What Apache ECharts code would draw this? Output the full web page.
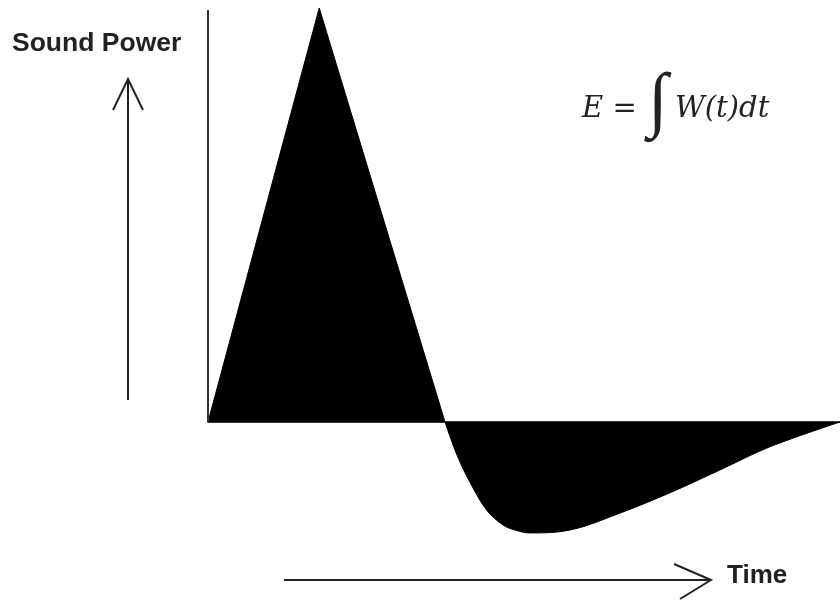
<!DOCTYPE html>
<html><head><meta charset="utf-8">
<script src="https://cdn.jsdelivr.net/npm/echarts@6/dist/echarts.min.js"></script>
<style>html,body{margin:0;padding:0;background:#fff}#c{width:840px;height:603px}</style>
</head><body><div id="c"></div>
<script>
// Time (0..100), sound power (relative)
const pulseTime = [0, 17.6, 37.5];
const pulsePower = [0, 100, 0];
const tailTime = [37.5, 39.4, 41.5, 44.1, 46.7, 48.6, 50.9, 57.3, 65.2, 73.1, 81.0, 88.9, 100];
const tailPower = [0, -8.0, -14.7, -21.3, -24.9, -26.1, -26.8, -26.1, -22.0, -17.1, -11.6, -6.0, 0];
const yAxisLineTime = [0, 0];
const yAxisLinePower = [0, 99.5];
const yLabel = 'Sound Power';
const xLabel = 'Time';

const zip = (a, b) => a.map((v, i) => [v, b[i]]);
const chart = echarts.init(document.getElementById('c'), null, {renderer: 'canvas'});
chart.setOption({
  animation: false,
  backgroundColor: '#fff',
  grid: {left: 208, right: 0, top: 8, height: 538.2},
  xAxis: {type: 'value', min: 0, max: 100,
    axisLine: {show: true, onZero: true, lineStyle: {color: '#333', width: 2}},
    axisTick: {show: false}, axisLabel: {show: false}, splitLine: {show: false}},
  yAxis: {type: 'value', min: -30, max: 100,
    axisLine: {show: false}, axisTick: {show: false}, axisLabel: {show: false}, splitLine: {show: false}},
  series: [
    {type: 'line', data: zip(pulseTime, pulsePower), symbol: 'none',
     lineStyle: {color: '#000', width: 1}, areaStyle: {color: '#000', opacity: 1}},
    {type: 'line', data: zip(tailTime, tailPower), symbol: 'none', smooth: 0.35,
     lineStyle: {color: '#000', width: 1}, areaStyle: {color: '#000', opacity: 1}},
    {type: 'line', data: zip(yAxisLineTime, yAxisLinePower), symbol: 'none',
     lineStyle: {color: '#333', width: 2}}
  ],
  graphic: [
    {type: 'text', left: 12, top: 30, style: {text: yLabel, font: 'bold 26.5px "Liberation Sans", Arial, sans-serif', fill: '#222'}},
    {type: 'polyline', shape: {points: [[128, 400], [128, 79]]}, style: {stroke: '#222', lineWidth: 2, fill: null}},
    {type: 'polyline', shape: {points: [[113, 110], [128, 79], [143, 110]]}, style: {stroke: '#222', lineWidth: 2, fill: null}},
    {type: 'polyline', shape: {points: [[284, 580], [711, 580]]}, style: {stroke: '#222', lineWidth: 2, fill: null}},
    {type: 'polyline', shape: {points: [[674, 564], [711, 580], [680, 599]]}, style: {stroke: '#222', lineWidth: 2, fill: null}},
    {type: 'text', left: 727, top: 563, style: {text: xLabel, font: 'bold 26px "Liberation Sans", Arial, sans-serif', fill: '#222'}},
    {type: 'text', left: 582, top: 95, style: {text: 'E =', font: 'italic 29px "DejaVu Serif", serif', fill: '#222'}},
    {type: 'text', left: 648, top: 68, style: {text: '∫', font: '72px "Liberation Serif", serif', fill: '#222'}},
    {type: 'text', left: 675, top: 95, style: {text: 'W(t)dt', font: 'italic 29px "DejaVu Serif", serif', fill: '#222'}}
  ]
});
</script></body></html>
